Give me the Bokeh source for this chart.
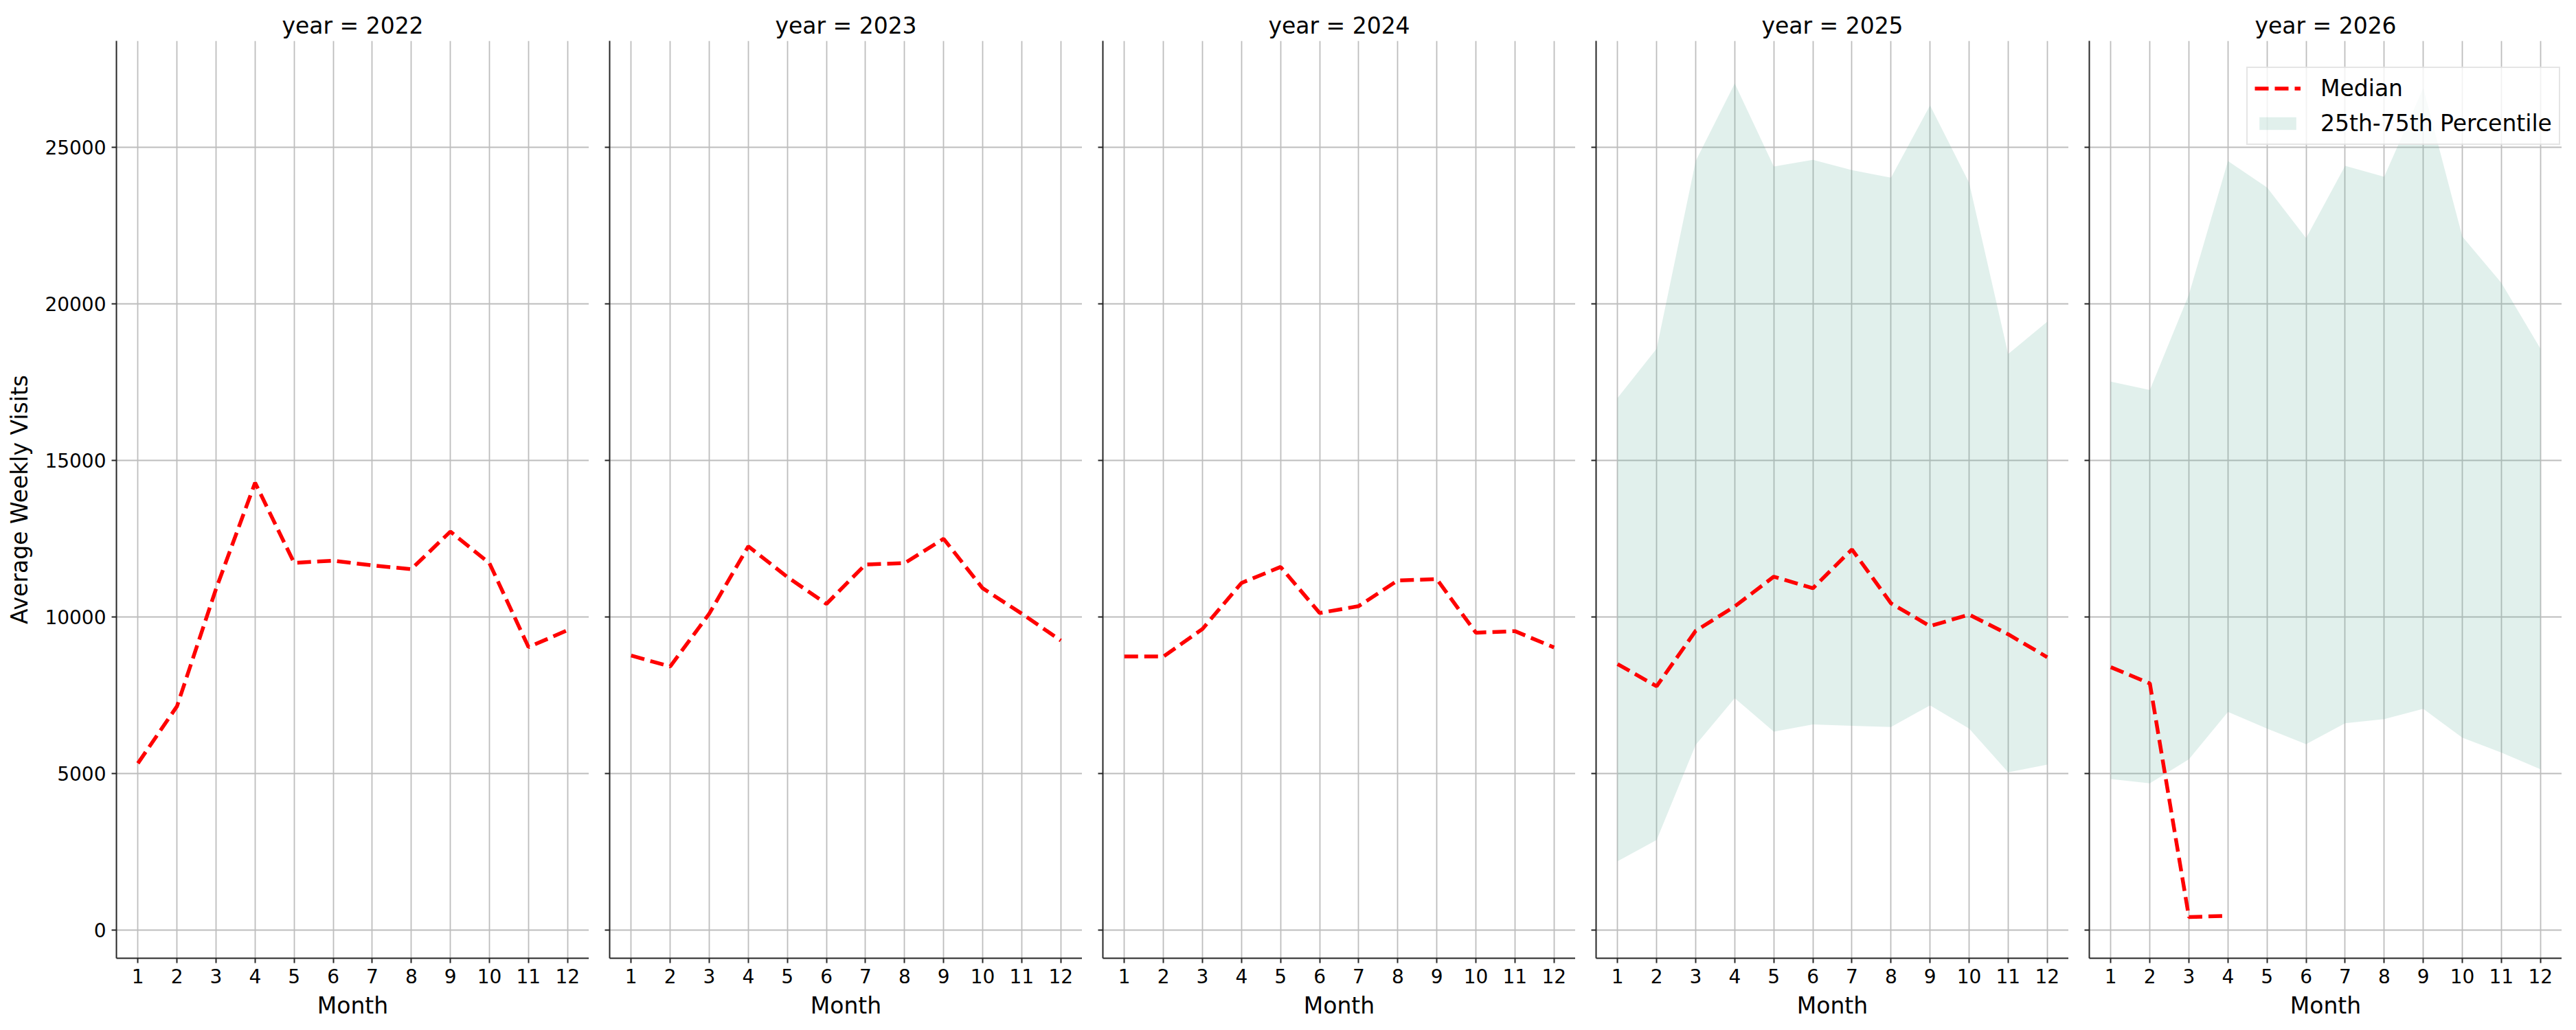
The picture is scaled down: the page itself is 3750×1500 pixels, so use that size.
from bokeh.plotting import figure
from bokeh.layouts import row
from bokeh.models import Range1d, FixedTicker, Legend, LegendItem
from bokeh.embed import file_html
from bokeh.resources import INLINE

FONT = "DejaVu Sans"

years = [2022, 2023, 2024, 2025, 2026]
months = [1, 2, 3, 4, 5, 6, 7, 8, 9, 10, 11, 12]
month_ticks = [1, 2, 3, 4, 5, 6, 7, 8, 9, 10, 11, 12]
visit_ticks = [0, 5000, 10000, 15000, 20000, 25000]

median_2022 = [5330, 7150, 10900, 14290, 11730, 11800, 11650, 11530, 12730, 11720, 9040, 9580]
median_2023 = [8770, 8420, 10110, 12260, 11280, 10420, 11680, 11720, 12500, 10920, 10110, 9250]
median_2024 = [8740, 8740, 9620, 11090, 11600, 10130, 10350, 11170, 11210, 9500, 9550, 9030]
median_2025 = [8500, 7790, 9560, 10340, 11290, 10920, 12160, 10440, 9710, 10080, 9450, 8720]
median_2026 = [8400, 7880, 420, 460]

p25_2025 = [2200, 2880, 5920, 7410, 6340, 6570, 6530, 6490, 7180, 6440, 5040, 5290]
p75_2025 = [17000, 18570, 24560, 27040, 24390, 24600, 24270, 24030, 26340, 23870, 18400, 19430]
p25_2026 = [4830, 4690, 5460, 6970, 6440, 5940, 6610, 6740, 7070, 6150, 5670, 5140]
p75_2026 = [17520, 17250, 20300, 24560, 23720, 22100, 24410, 24060, 26900, 22150, 20670, 18570]

medians = {2022: median_2022, 2023: median_2023, 2024: median_2024,
           2025: median_2025, 2026: median_2026}
bands = {2025: (p25_2025, p75_2025), 2026: (p25_2026, p75_2026)}


def make_panel(year, first=False, last=False):
    p = figure(title=f"year = {year}", frame_width=688, frame_height=1336,
               x_range=Range1d(0.45, 12.55), y_range=Range1d(-895, 28400),
               min_border_left=169 if first else 30, min_border_right=0,
               min_border_top=59, min_border_bottom=105,
               output_backend="svg", toolbar_location=None)
    p.outline_line_color = None
    p.background_fill_color = "white"

    p.title.align = "center"
    p.title.text_font = FONT
    p.title.text_font_size = "33px"
    p.title.text_font_style = "normal"
    p.title.text_color = "black"
    p.title.standoff = 6

    p.xaxis.ticker = FixedTicker(ticks=month_ticks)
    p.yaxis.ticker = FixedTicker(ticks=visit_ticks)
    p.xaxis.axis_label = "Month"
    for ax in (p.xaxis, p.yaxis):
        ax.axis_line_color = "#262626"
        ax.axis_line_width = 2
        ax.major_tick_line_color = "#262626"
        ax.major_tick_line_width = 2
        ax.major_tick_out = 7
        ax.major_tick_in = 0
        ax.minor_tick_line_color = None
        ax.major_label_text_font = FONT
        ax.major_label_text_font_size = "28px"
        ax.major_label_text_color = "black"
        ax.major_label_standoff = 8
        ax.axis_label_text_font = FONT
        ax.axis_label_text_font_size = "33px"
        ax.axis_label_text_font_style = "normal"
        ax.axis_label_text_color = "black"
        ax.axis_label_standoff = 10
    if first:
        p.yaxis.axis_label = "Average Weekly Visits"
        p.yaxis.axis_label_standoff = 14
    else:
        # shared y axis: tick marks only, no labels
        p.yaxis.major_label_text_color = None
        p.yaxis.major_label_text_font_size = "0px"
        p.yaxis.major_label_standoff = 0

    p.grid.grid_line_color = "#bdbdbd"
    p.grid.grid_line_width = 1.8

    band = None
    if year in bands:
        lo, hi = bands[year]
        band = p.varea(x=months, y1=lo, y2=hi, fill_color="#69b3a2", fill_alpha=0.2)
    med = medians[year]
    line = p.line(months[:len(med)], med, line_color="red", line_width=5.5, line_dash="20 9")

    if last:
        legend = Legend(items=[LegendItem(label="Median", renderers=[line]),
                               LegendItem(label="25th-75th Percentile", renderers=[band])],
                        location=(229, 1184))
        legend.label_text_font = FONT
        legend.label_text_font_size = "33px"
        legend.label_text_color = "black"
        legend.glyph_width = 67
        legend.glyph_height = 23
        legend.label_standoff = 29
        legend.padding = 10
        legend.spacing = 12
        legend.margin = 0
        legend.border_line_color = "#cccccc"
        legend.border_line_width = 2
        legend.background_fill_alpha = 0.8
        p.add_layout(legend)
    return p


figs = [make_panel(y, first=(i == 0), last=(i == len(years) - 1)) for i, y in enumerate(years)]
layout = row(*figs)

open("out.html", "w").write(file_html(layout, INLINE))
